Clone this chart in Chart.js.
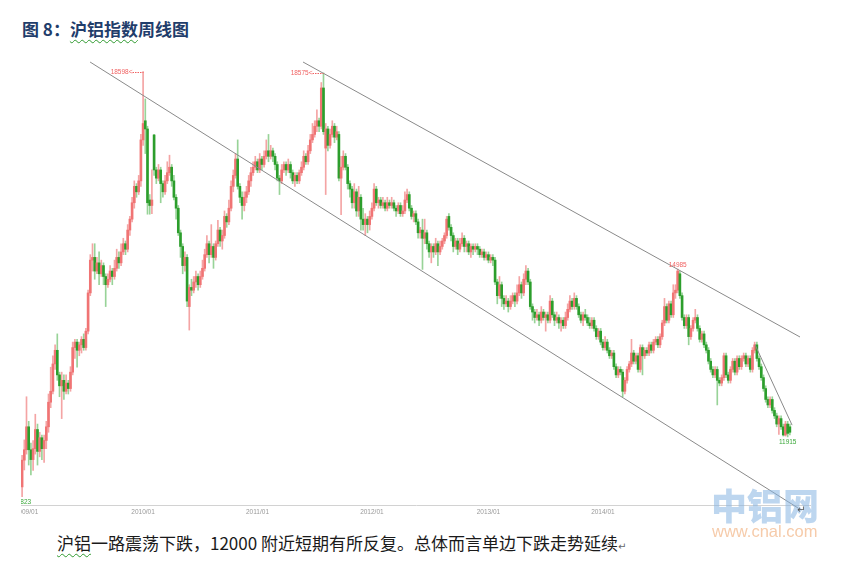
<!DOCTYPE html>
<html>
<head>
<meta charset="utf-8">
<script src="https://cdn.jsdelivr.net/npm/chart.js@4"></script>
<style>
  body { margin: 0; background: #fff; width: 847px; height: 561px; position: relative; overflow: hidden; }
  #title { position: absolute; left: 22px; top: 19px; font: bold 17px "Noto Sans CJK SC", sans-serif; line-height: 20px; color: #1f3d6b; white-space: nowrap; }
  .sp { text-decoration: underline wavy #2f9a2f; text-decoration-thickness: 1px; text-underline-offset: 3px; }
  #chart { position: absolute; left: 21px; top: 50px; }
  #wm { position: absolute; left: 711px; top: 482px; font: 900 36px "Noto Sans CJK SC", sans-serif; line-height: 44px; color: rgba(135, 180, 226, 0.55); letter-spacing: 0px; white-space: nowrap; }
  #wm2 { position: absolute; left: 712px; top: 522px; font: 16.5px "Liberation Sans", Arial, sans-serif; line-height: 19px; color: #f6cbaa; white-space: nowrap; }
  #pm { position: absolute; left: 797px; top: 504px; font: 10px "DejaVu Sans", sans-serif; color: #555; }
  #cap { position: absolute; left: 57px; top: 532px; font: 17px "Noto Sans CJK SC", sans-serif; line-height: 22px; color: #1a1a1a; white-space: nowrap; }
  #cap .pm2 { font: 10px "DejaVu Sans", sans-serif; color: #666; }
</style>
</head>
<body>
<div id="title">图 8：<span class="sp">沪铝指数</span>周线图</div>
<canvas id="chart" width="790" height="475"></canvas>
<div id="wm">中铝网</div>
<div id="wm2">www.cnal.com</div>
<div id="pm">↵</div>
<div id="cap"><span class="sp">沪铝</span>一路震荡下跌，12000 附近短期有所反复。总体而言单边下跌走势延续<span class="pm2">↵</span></div>
<script>
// weekly candles of the SHFE aluminium index
const open = [
  11000,11490,11680,12100,11680,11500,11700,12050,11650,11900,
  11700,11850,12100,12550,12750,13250,13500,13050,12850,12950,
  12750,12900,12800,13100,13550,13650,13500,13600,13700,13550,
  13850,14550,15150,15200,14950,15100,14900,15050,14850,14700,
  14800,14950,14850,15000,15200,15100,15300,15450,15350,15700,
  15900,16200,16500,16400,16600,17350,17700,17550,16250,16150,
  17440,16800,16650,16800,16550,16400,16600,16750,16850,16600,
  16300,16100,15650,15400,15050,15200,14300,14650,14600,14750,
  14850,14700,14850,15000,15250,15450,15250,15400,15200,15450,
  15700,15500,15600,15950,15850,16100,16500,16700,17000,16500,
  16300,16150,16300,16400,16600,16750,16850,16950,16800,17000,
  16900,17050,17150,17050,17150,17050,16900,16650,16600,16800,
  16900,16800,16900,16750,16600,16700,16600,16750,16850,17050,
  16950,17150,17350,17450,17600,17700,17600,18300,17200,17550,
  17250,17450,17600,17400,17450,16650,16850,17050,16850,16550,
  16450,16200,16400,16050,16300,15900,15800,15900,15800,15950,
  16100,16450,16200,16250,16150,16200,16100,16200,16150,16200,
  16100,16050,16150,16000,16050,16250,16350,16100,15950,16000,
  15850,15650,15700,15550,15650,15450,15300,15400,15300,15450,
  15300,15400,15500,15600,15950,15750,15600,15400,15500,15350,
  15450,15550,15400,15450,15300,15400,15350,15400,15350,15250,
  15300,15200,15250,15150,15200,15150,14750,14500,14700,14450,
  14350,14400,14300,14400,14500,14400,14550,14700,14550,14800,
  14950,14750,14300,14200,14100,14150,14050,14200,14100,14150,
  14050,14400,14150,14050,14100,14000,14050,13950,14100,14250,
  14400,14300,14450,14300,14150,14050,14150,14100,14000,13950,
  14050,13900,13750,13850,13650,13550,13650,13500,13400,13450,
  13200,13050,13150,13100,12750,12950,13150,13250,13450,13300,
  13400,13150,13550,13400,13500,13450,13600,13500,13650,13700,
  13600,13750,14000,14300,14050,14350,14150,14550,14600,14900,
  14500,14100,13950,14100,13750,13900,14050,14100,13900,13700,
  13800,13600,13500,13300,13150,13050,13150,12950,12900,13000,
  13400,13050,12950,13150,13300,13100,13350,13200,13350,13400,
  13250,13350,13150,13500,13600,13350,13200,13000,12800,12600,
  12500,12600,12400,12300,12150,12250,12100,11950,12150,12100
];
const high = [
  11580,11860,12650,12200,11800,11850,12330,12150,12000,11950,
  11950,12200,12700,13190,13400,13600,13800,13100,13100,13050,
  13050,12950,13200,13650,13700,13700,13650,13750,13800,13900,
  14600,15250,15450,15450,15200,15300,15150,15100,14900,14900,
  15050,15000,15150,15350,15300,15450,15550,15500,15800,15950,
  16300,16600,16550,16700,17450,18598,18100,17600,16350,16800,
  17450,16850,16900,16850,16600,16700,16950,17070,16900,16700,
  16350,16150,15700,15450,15300,15250,14700,14800,14850,14950,
  14900,14950,15150,15350,15600,15500,15800,15450,15500,15880,
  15750,15700,16050,16000,16250,16600,16800,17100,17350,16550,
  16400,16400,16500,16700,16850,16950,17050,17000,17100,17050,
  17150,17350,17450,17250,17200,17100,16950,16700,16900,16950,
  16950,17000,16950,16800,16750,16750,16800,16950,17150,17100,
  17250,17450,17650,17700,17900,17750,18400,18575,17650,17600,
  17550,17700,17650,17600,17500,17050,17150,17100,16900,16600,
  16500,16550,16450,16500,16350,16100,16000,15950,16050,16200,
  16550,16500,16300,16300,16300,16250,16300,16250,16300,16250,
  16150,16200,16200,16150,16400,16450,16400,16150,16050,16050,
  15900,15750,15900,15900,15700,15500,15450,15450,15550,15500,
  15500,15550,15650,15950,16000,15800,15650,15550,15550,15550,
  15650,15600,15500,15500,15450,15450,15450,15450,15400,15350,
  15350,15300,15300,15250,15250,15200,14800,14850,14750,14500,
  14500,14450,14500,14550,14550,14700,14850,14750,14900,15050,
  15000,14800,14350,14250,14250,14200,14300,14250,14200,14200,
  14500,14450,14200,14200,14150,14100,14100,14200,14350,14500,
  14450,14550,14500,14350,14200,14200,14250,14150,14100,14100,
  14100,13950,13900,13900,13700,13750,13700,13550,13500,13500,
  13250,13200,13200,13150,13000,13200,13300,13700,13500,13450,
  13450,13600,13600,13550,13550,13650,13650,13700,13750,13750,
  13800,14050,14450,14350,14400,14400,14700,14700,14985,14950,
  14550,14150,14150,14150,13950,14100,14250,14150,13950,13850,
  13850,13650,13550,13350,13200,13200,13200,13000,13050,13450,
  13450,13100,13200,13350,13350,13400,13400,13400,13450,13450,
  13400,13400,13550,13650,13650,13400,13250,13050,12850,12650,
  12650,12650,12450,12350,12300,12300,12150,12200,12200,12150
];
const low = [
  10823,11310,11600,11400,11220,11300,11600,11400,11550,11500,
  11450,11700,12000,12450,12700,13150,12950,12650,12250,12600,
  12700,12700,12750,13050,13350,13190,13400,13450,13500,13500,
  13800,14500,14950,14800,14900,14700,14850,14700,14300,14650,
  14750,14700,14800,14950,15000,15050,15250,15250,15300,15600,
  15850,16100,16300,16350,16500,17250,17100,15990,15990,16000,
  16700,16550,16600,16200,16300,16350,16550,16700,16500,16250,
  15900,15600,15200,14900,14950,14300,13870,14500,14550,14650,
  14600,14650,14800,14950,15200,15100,15200,15000,15150,15400,
  15400,15350,15550,15750,15800,16050,16400,16650,16450,16200,
  15900,16050,16200,16350,16500,16700,16800,16750,16750,16800,
  16850,17000,16950,17000,16950,16800,16600,16350,16550,16750,
  16700,16750,16650,16550,16500,16550,16550,16700,16800,16900,
  16900,17100,17300,17400,17500,17500,17550,17450,16350,17150,
  17200,17400,17300,17350,16600,15980,16800,16800,16450,16300,
  16100,16100,15950,15950,15700,15700,15600,15650,15700,15900,
  16050,16150,16100,16100,16100,16050,16050,16100,16100,16050,
  15950,16000,15950,15950,16000,16200,16050,15900,15850,15800,
  15550,15550,14980,15450,15350,15200,15100,15200,15250,15050,
  15250,15350,15450,15550,15700,15500,15300,15350,15250,15300,
  15400,15300,15300,15250,15200,15250,15300,15250,15200,15200,
  15150,15150,15100,15100,15050,14700,14350,14450,14300,14250,
  14300,14200,14250,14350,14300,14350,14500,14450,14500,14700,
  14700,14250,14050,14000,14050,13950,14000,14050,13850,14000,
  14000,14100,13950,14000,13900,13850,13900,13900,14050,14200,
  14250,14250,14250,14100,14000,13950,14050,13950,13900,13900,
  13850,13700,13700,13600,13500,13500,13450,13350,13350,13150,
  13000,13000,13050,12650,12700,12900,13100,13200,13250,13250,
  13100,13100,13050,13350,13400,13400,13450,13450,13600,13550,
  13550,13700,13950,14000,14000,14100,14100,14450,14550,14450,
  14050,13900,13900,13600,13700,13850,14000,13850,13650,13650,
  13550,13450,13250,13100,13000,13000,12500,12850,12850,12950,
  13000,12900,12900,13100,13050,13050,13150,13150,13300,13200,
  13200,13100,13100,13450,13300,13150,12950,12750,12550,12450,
  12450,12350,12250,12100,11960,12050,11930,11930,11915,11950
];
const close = [
  11490,11680,12100,11680,11500,11700,12050,11650,11900,11700,
  11850,12100,12550,12750,13250,13500,13050,12850,12950,12750,
  12900,12800,13100,13550,13650,13500,13600,13700,13550,13850,
  14550,15150,15200,14950,15100,14900,15050,14850,14700,14800,
  14950,14850,15000,15200,15100,15300,15450,15350,15700,15900,
  16200,16500,16400,16600,17350,17650,17550,16200,16150,16250,
  16800,16650,16800,16550,16400,16600,16750,16850,16600,16300,
  16100,15650,15400,15050,15200,14400,14650,14600,14750,14850,
  14700,14850,15000,15250,15450,15250,15400,15200,15450,15700,
  15500,15600,15950,15850,16100,16500,16700,17000,16500,16300,
  16150,16300,16400,16600,16750,16850,16950,16800,17000,16900,
  17050,17150,17050,17150,17050,16900,16650,16600,16800,16900,
  16800,16900,16750,16600,16700,16600,16750,16850,17050,16950,
  17150,17350,17450,17600,17700,17600,18300,17500,17550,17250,
  17450,17600,17400,17500,16650,16850,17050,16850,16550,16450,
  16200,16400,16050,16300,15900,15800,15900,15800,15950,16100,
  16450,16200,16250,16150,16200,16100,16200,16150,16200,16100,
  16050,16150,16000,16050,16250,16350,16100,15950,16000,15850,
  15650,15700,15550,15650,15450,15300,15400,15300,15450,15300,
  15400,15500,15600,15900,15750,15600,15400,15500,15350,15450,
  15550,15400,15450,15300,15400,15350,15400,15350,15250,15300,
  15200,15250,15150,15200,15150,14750,14500,14700,14450,14350,
  14400,14300,14400,14500,14400,14550,14700,14550,14800,14950,
  14750,14300,14200,14100,14150,14050,14200,14100,14150,14050,
  14400,14150,14050,14100,14000,14050,13950,14100,14250,14400,
  14300,14450,14300,14150,14050,14150,14100,14000,13950,14050,
  13900,13750,13850,13650,13550,13650,13500,13400,13450,13200,
  13050,13150,13100,12750,12950,13150,13250,13450,13300,13400,
  13150,13550,13400,13500,13450,13600,13500,13650,13700,13600,
  13750,14000,14300,14050,14350,14150,14550,14600,14950,14500,
  14100,13950,14100,13750,13900,14050,14100,13900,13700,13800,
  13600,13500,13300,13150,13050,13150,12950,12900,13000,13400,
  13050,12950,13150,13300,13100,13350,13200,13350,13400,13250,
  13350,13150,13500,13600,13350,13200,13000,12800,12600,12500,
  12600,12400,12300,12150,12250,12100,11950,12150,11980,12000
];

// year ticks (week index -> label)
const tickIdx = [2, 55, 107, 159, 212, 264];
const tickLbl = ['2009/01', '2010/01', '2011/01', '2012/01', '2013/01', '2014/01'];

// hand-drawn trend lines: [startWeek, startPrice, endWeek, endPrice]
const trendLines = [
  [30.9, 18775, 352.7, 10614],
  [127.7, 18775, 353.6, 13743],
  [333.2, 13600, 350, 12130]
];

// extreme-value notes
const arrowNotes = [[55, 18598], [137, 18575]];
const topNotes = [[298, 14985]];
const bottomNotes = [[348, 11915], [0, 10823]];

const RED = '#f07474', RED_W = '#f4a4a4', GREEN = '#2c9e2c', GREEN_W = '#98d398';
const isUp = i => close[i] >= open[i];
const weeks = close.map((_, i) => i);

const notePlugin = {
  id: 'notes',
  afterDatasetsDraw(chart) {
    const { ctx, scales: { x, y } } = chart;
    ctx.save();
    ctx.font = '6.5px "Liberation Sans", Arial, sans-serif';
    ctx.lineWidth = 1;
    arrowNotes.forEach(([i, v]) => {
      const px = Math.round(x.getPixelForValue(i)) + 0.5;
      const py = Math.round(y.getPixelForValue(v)) + 0.5;
      ctx.fillStyle = ctx.strokeStyle = '#f06262';
      ctx.textAlign = 'right';
      ctx.textBaseline = 'middle';
      ctx.fillText(v + '<', px - 11, py);
      ctx.setLineDash([1.5, 1]);
      ctx.beginPath();
      ctx.moveTo(px - 11, py);
      ctx.lineTo(px, py);
      ctx.stroke();
      ctx.setLineDash([]);
    });
    ctx.textAlign = 'center';
    topNotes.forEach(([i, v]) => {
      ctx.fillStyle = '#f06262';
      ctx.textBaseline = 'bottom';
      ctx.fillText(String(v), x.getPixelForValue(i), y.getPixelForValue(v) - 0.5);
    });
    bottomNotes.forEach(([i, v]) => {
      ctx.fillStyle = '#3aa83a';
      ctx.textBaseline = 'top';
      ctx.fillText(String(v), x.getPixelForValue(i), y.getPixelForValue(v) + 2);
    });
    ctx.restore();
  }
};

new Chart(document.getElementById('chart'), {
  data: {
    datasets: [
      ...trendLines.map(t => ({
        type: 'line',
        data: [{ x: t[0], y: t[1] }, { x: t[2], y: t[3] }],
        borderColor: '#8a8a8a',
        borderWidth: 1,
        pointRadius: 0,
        clip: false,
        order: 0
      })),
      {
        type: 'bar',
        data: weeks.map(i => ({ x: i, y: [open[i], close[i]] })),
        backgroundColor: c => isUp(c.dataIndex) ? RED : GREEN,
        barThickness: 2,
        minBarLength: 1,
        grouped: false,
        order: 1
      },
      {
        type: 'bar',
        data: weeks.map(i => ({ x: i, y: [low[i], high[i]] })),
        backgroundColor: c => isUp(c.dataIndex) ? RED_W : GREEN_W,
        barThickness: 1,
        grouped: false,
        order: 2
      }
    ]
  },
  options: {
    responsive: false,
    animation: false,
    events: [],
    layout: { padding: { top: 10, left: 0, right: 0, bottom: 0 } },
    plugins: { legend: { display: false }, tooltip: { enabled: false } },
    scales: {
      x: {
        type: 'linear',
        offset: false,
        min: -0.5,
        max: 358.6,
        grid: { display: false, drawTicks: false },
        border: { display: true, color: '#d2d2d2', width: 1 },
        ticks: {
          autoSkip: false,
          maxRotation: 0,
          padding: 3,
          color: '#999999',
          font: { size: 6.5, family: '"Liberation Sans", Arial, sans-serif' },
          callback: v => {
            const k = tickIdx.indexOf(v);
            return k < 0 ? '' : tickLbl[k];
          }
        },
        afterBuildTicks: s => { s.ticks = tickIdx.map(v => ({ value: v })); },
        afterFit: s => { s.height = 20; s.paddingLeft = 0; s.paddingRight = 0; }
      },
      y: { type: 'linear', display: false, min: 10669, max: 18812 }
    }
  },
  plugins: [notePlugin]
});
</script>
</body>
</html>
